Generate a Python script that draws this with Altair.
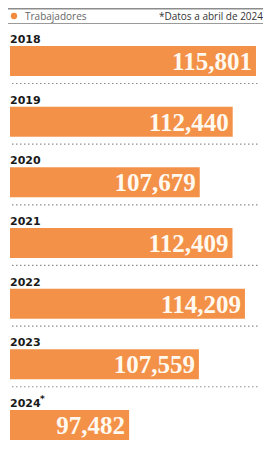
import altair as alt
import pandas as pd

# ---- data ----
years = ["2018", "2019", "2020", "2021", "2022", "2023", "2024"]
trabajadores = [115801, 112440, 107679, 112409, 114209, 107559, 97482]
notas = ["", "", "", "", "", "", "*"]
legend_label = "Trabajadores"
footnote = "*Datos a abril de 2024"
axis_start = 80280
axis_end = 116814

ORANGE = "#F28B3E"
W, H = 255, 434
BAND0, STEP = 22.7, 60.65

df = pd.DataFrame({"anio": years, "valor": trabajadores, "nota": notas})

yscale = alt.Scale(type="band", range=[BAND0, BAND0 + 7 * STEP], paddingInner=0, paddingOuter=0)
y = alt.Y("anio:N", axis=None, sort=years, scale=yscale)
y_start = alt.Y("anio:N", axis=None, sort=years, bandPosition=0, scale=yscale)
x = alt.X("valor:Q", axis=None,
          scale=alt.Scale(domain=[axis_start, axis_end], range=[2, W], zero=False, nice=False))

base = alt.Chart(df)

bars = base.mark_bar(height=30, color=ORANGE, opacity=0.95).encode(
    y=y, x=x, x2=alt.datum(axis_start)
)

values = base.mark_text(
    align="right", baseline="middle", dx=-4, dy=1,
    font="Liberation Serif", fontWeight="bold", fontSize=25, color="#FFF9F0"
).encode(y=y, x=x, text=alt.Text("valor:Q", format=","))

year_text = base.mark_text(
    align="left", baseline="alphabetic", dy=-18,
    font="DejaVu Sans", fontWeight="bold", fontSize=11, color="#1a1a1a"
).encode(y=y, x=alt.value(2), text="anio:N")

asterisk = base.mark_text(
    align="left", baseline="alphabetic", dy=-23, dx=30,
    font="DejaVu Sans", fontWeight="bold", fontSize=9, color="#1a1a1a"
).encode(y=y, x=alt.value(2), text="nota:N")

seps = base.transform_filter(alt.datum.anio != years[-1]).mark_rule(
    yOffset=52.8, strokeDash=[1.5, 2.5], color="#8f8f8f", strokeWidth=1.2
).encode(y=y_start, x=alt.value(4), x2=alt.value(W - 4))

hdr = alt.Chart(pd.DataFrame({"a": [0]}))
top_line = hdr.mark_rule(color="#8c8c8c", strokeWidth=1.5).encode(
    x=alt.value(0), x2=alt.value(W), y=alt.value(0.8))
bottom_line = hdr.mark_rule(color="#9a9a9a", strokeWidth=1).encode(
    x=alt.value(0), x2=alt.value(W), y=alt.value(15.5))
dot = hdr.mark_point(filled=True, size=40, color=ORANGE, opacity=1).encode(
    x=alt.value(6), y=alt.value(8))
leg_text = hdr.mark_text(align="left", baseline="alphabetic", font="Open Sans",
                         fontSize=10, color="#666666").encode(
    x=alt.value(17), y=alt.value(11.5), text=alt.value(legend_label))
foot_text = hdr.mark_text(align="right", baseline="alphabetic", font="Open Sans",
                          fontSize=10, color="#333333").encode(
    x=alt.value(W), y=alt.value(11.5), text=alt.value(footnote))

chart = alt.layer(
    bars, seps, values, year_text, asterisk,
    top_line, bottom_line, dot, leg_text, foot_text
).properties(
    width=W, height=H, padding=0, autosize=alt.AutoSizeParams(type="none"),
    background="white"
).configure_view(stroke=None)

chart.save("out.html", embed_options={"renderer": "svg", "actions": False})
